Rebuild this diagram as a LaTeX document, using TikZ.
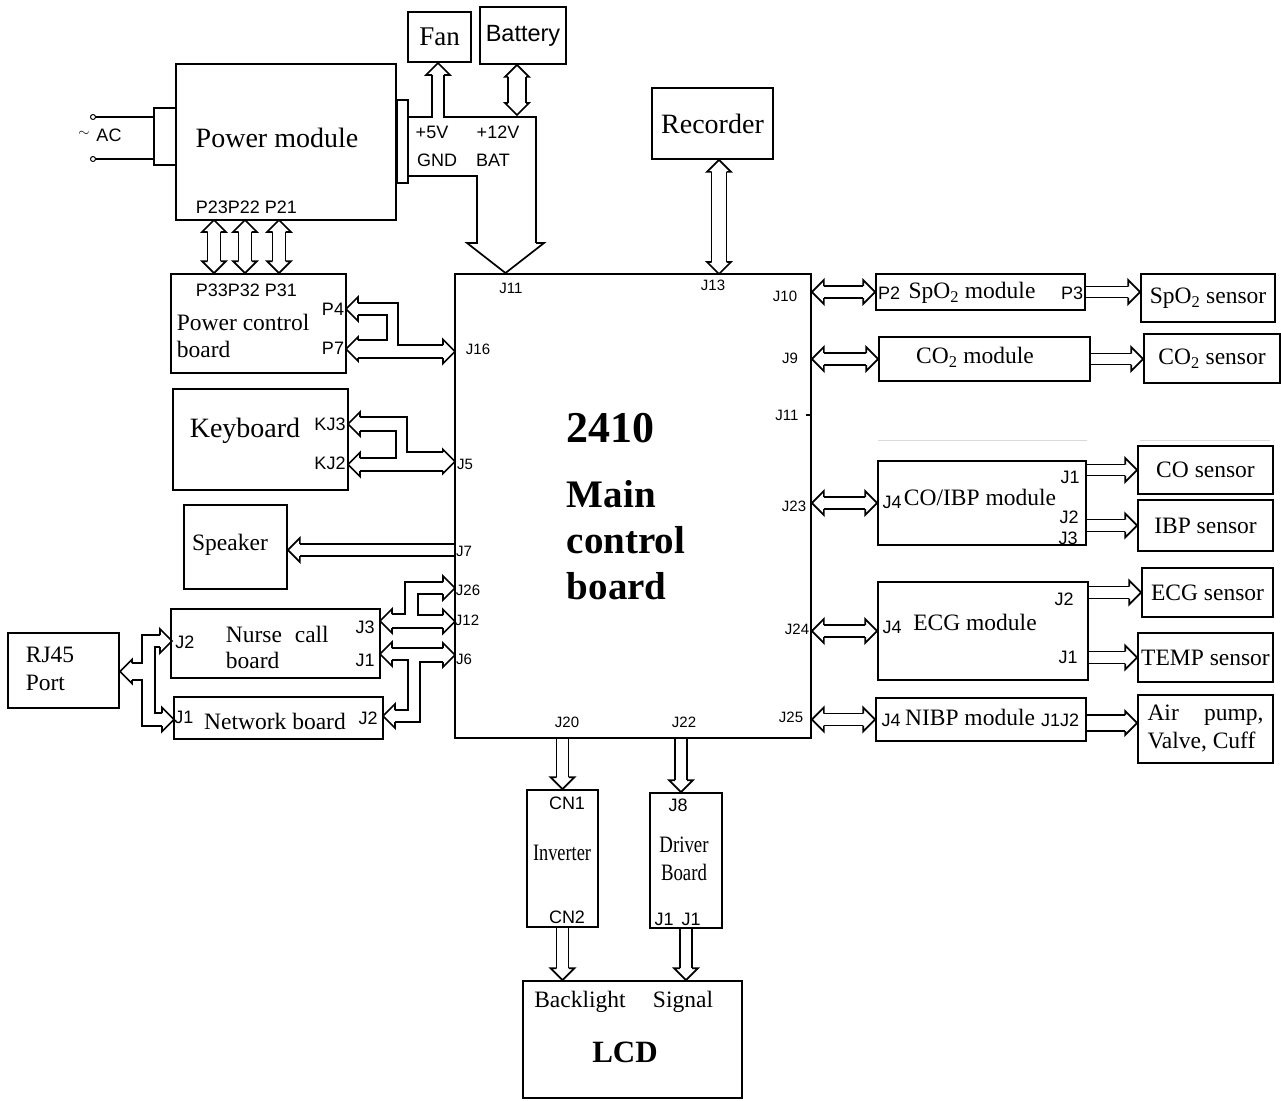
\documentclass[tikz,border=0pt]{standalone}
\usepackage{fontspec}
\setmainfont{Liberation Serif}
\newfontfamily\pinfont{Liberation Sans}
\usepackage{graphicx}
\usetikzlibrary{calc}

\tikzset{
  blk/.style={draw, rectangle, inner sep=0pt},
  lbl/.style={inner sep=0pt, font=\fontsize{23.5}{27}\selectfont},
  biglbl/.style={inner sep=0pt, font=\fontsize{28}{32}\selectfont},
  pin/.style={inner sep=0pt, font=\pinfont\fontsize{15}{15}\selectfont},
  pinl/.style={inner sep=0pt, font=\pinfont\fontsize{18}{18}\selectfont},
  pics/headL/.style={code={\draw (12,-#1) -- (12,-12) -- (0,0) -- (12,12) -- (12,#1);}},
  pics/headR/.style={code={\draw (-12,-#1) -- (-12,-12) -- (0,0) -- (-12,12) -- (-12,#1);}},
  pics/headU/.style={code={\draw (-#1,12) -- (-12,12) -- (0,0) -- (12,12) -- (#1,12);}},
  pics/headD/.style={code={\draw (-#1,-12) -- (-12,-12) -- (0,0) -- (12,-12) -- (#1,-12);}},
}

% hollow bus arrows: [shaft half width]{from}{to}
\newcommand{\busLR}[3][6]{%
  \pic at (#2) {headL=#1}; \pic at (#3) {headR=#1};
  \draw let \p1=(#2), \p2=(#3) in
    (\x1+12pt,\y1+#1pt) -- (\x2-12pt,\y1+#1pt)
    (\x1+12pt,\y1-#1pt) -- (\x2-12pt,\y1-#1pt);}
\newcommand{\busR}[3][6]{%
  \pic at (#3) {headR=#1};
  \draw let \p1=(#2), \p2=(#3) in
    (\x1,\y2+#1pt) -- (\x2-12pt,\y2+#1pt)
    (\x1,\y2-#1pt) -- (\x2-12pt,\y2-#1pt);}
\newcommand{\busL}[3][6]{%
  \pic at (#2) {headL=#1};
  \draw let \p1=(#2), \p2=(#3) in
    (\x1+12pt,\y1+#1pt) -- (\x2,\y1+#1pt)
    (\x1+12pt,\y1-#1pt) -- (\x2,\y1-#1pt);}
\newcommand{\busUD}[3][6]{%
  \pic at (#2) {headU=#1}; \pic at (#3) {headD=#1};
  \draw let \p1=(#2), \p2=(#3) in
    (\x1+#1pt,\y1-12pt) -- (\x1+#1pt,\y2+12pt)
    (\x1-#1pt,\y1-12pt) -- (\x1-#1pt,\y2+12pt);}
\newcommand{\busD}[3][6]{%
  \pic at (#3) {headD=#1};
  \draw let \p1=(#2), \p2=(#3) in
    (\x2+#1pt,\y1) -- (\x2+#1pt,\y2+12pt)
    (\x2-#1pt,\y1) -- (\x2-#1pt,\y2+12pt);}

\begin{document}
\begin{tikzpicture}[x=1pt, y=-1pt, line width=1.7pt, line join=miter]

  %% ==== blocks ====
  \node[blk, minimum width=220, minimum height=156] (power) at (286,142) {};
  \node[blk, minimum width=22, minimum height=57] (acplug) at (165,136.5) {};
  \node[blk, minimum width=11, minimum height=83] (pout) at (402.5,141.5) {};
  \node[blk, minimum width=63, minimum height=50, font=\fontsize{27}{27}\selectfont] (fan) at (439.5,37) {Fan};
  \node[blk, minimum width=86, minimum height=57, font=\pinfont\fontsize{23.5}{24}\selectfont] (battery) at (523,35.5) {Battery};
  \node[blk, minimum width=121, minimum height=71, font=\fontsize{28}{28}\selectfont] (recorder) at (712.5,123.5) {Recorder};
  \node[blk, minimum width=175, minimum height=99] (pcb) at (258.5,323.5) {};
  \node[blk, minimum width=175, minimum height=101] (keyboard) at (260.5,439.5) {};
  \node[blk, minimum width=103, minimum height=84] (speaker) at (235.5,547) {};
  \node[blk, minimum width=209, minimum height=69] (nurse) at (275.5,643.5) {};
  \node[blk, minimum width=209, minimum height=42] (network) at (278.5,718) {};
  \node[blk, minimum width=111, minimum height=75] (rj45) at (63.5,670.5) {};
  \node[blk, minimum width=356, minimum height=464] (main) at (633,506) {};
  \node[blk, minimum width=209, minimum height=36] (spo2m) at (980.5,292) {};
  \node[blk, minimum width=134, minimum height=48] (spo2s) at (1208,298) {};
  \node[blk, minimum width=211, minimum height=44] (co2m) at (984.5,359) {};
  \node[blk, minimum width=136, minimum height=49] (co2s) at (1212,358.5) {};
  \node[blk, minimum width=208, minimum height=84] (coibp) at (982,503) {};
  \node[blk, minimum width=135, minimum height=48] (cos) at (1205.5,470) {};
  \node[blk, minimum width=135, minimum height=51] (ibps) at (1205.5,525.5) {};
  \node[blk, minimum width=210, minimum height=98] (ecgm) at (983,631) {};
  \node[blk, minimum width=131, minimum height=49] (ecgs) at (1207.5,592.5) {};
  \node[blk, minimum width=135, minimum height=49] (temps) at (1205.5,657.5) {};
  \node[blk, minimum width=210, minimum height=43] (nibpm) at (981,719.5) {};
  \node[blk, minimum width=135, minimum height=68] (pump) at (1205.5,729) {};
  \node[blk, minimum width=71, minimum height=137] (inverter) at (562.5,858.5) {};
  \node[blk, minimum width=72, minimum height=135] (driver) at (686,860.5) {};
  \node[blk, minimum width=219, minimum height=117] (lcd) at (632.5,1039.5) {};

  %% ==== texts ====
  \node[biglbl] (powert) at (277,138) {Power module};
  \node[lbl, anchor=west, align=left] (pcbt) at (176,335.5) {Power control\\board};
  \node[biglbl] (keyt) at (245,431) {Keyboard};
  \node[lbl] (speakert) at (230,545) {Speaker};
  \node[lbl, anchor=west, align=left, font=\fontsize{23.5}{26}\selectfont] (nurset) at (225,647) {Nurse\hspace{7pt} call\\board};
  \node[lbl] (networkt) at (275,721) {Network board};
  \node[lbl, anchor=west, align=left, font=\fontsize{23.5}{28}\selectfont] (rj45t) at (25,669) {RJ45\\Port};
  \node[anchor=west, inner sep=0pt, font=\bfseries\fontsize{44}{44}\selectfont] (maint) at (566,428) {2410};
  \node[anchor=west, align=left, inner sep=0pt, font=\bfseries\fontsize{39}{46}\selectfont] (mainn) at (566,540) {Main\\control\\board};
  \node[lbl] (spo2mt) at (972,293) {SpO\textsubscript{2} module};
  \node[lbl] (spo2st) at (spo2s) {SpO\textsubscript{2} sensor};
  \node[lbl] (co2mt) at (975,357) {CO\textsubscript{2} module};
  \node[lbl] (co2st) at (co2s) {CO\textsubscript{2} sensor};
  \node[lbl] (coibpt) at (980,497) {CO/IBP module};
  \node[lbl] (cost) at (cos) {CO sensor};
  \node[lbl] (ibpst) at (ibps) {IBP sensor};
  \node[lbl] (ecgmt) at (975,622) {ECG module};
  \node[lbl] (ecgst) at (ecgs) {ECG sensor};
  \node[lbl] (tempst) at (temps) {TEMP sensor};
  \node[lbl] (nibpmt) at (970,717) {NIBP module};
  \node[lbl, align=left, font=\fontsize{23.5}{28}\selectfont] (pumpt) at (pump) {\makebox[116pt][s]{Air pump,}\\Valve, Cuff};
  \node[lbl] (invt) at (562,853) {\scalebox{0.78}[1]{Inverter}};
  \node[lbl, align=center, font=\fontsize{23.5}{28}\selectfont] (drivert) at (684,859) {\scalebox{0.8}[1]{Driver}\\\scalebox{0.8}[1]{Board}};
  \node[lbl] (backt) at (580,1002) {Backlight};
  \node[lbl] (signalt) at (683,1002) {Signal};
  \node[inner sep=0pt, font=\bfseries\fontsize{31}{31}\selectfont] (lcdt) at (625,1052) {LCD};

  %% ==== pin labels ====
  \node[pinl] (acl) at (109,135) {AC};
  \node[pin] (acs) at (84,134) {$\sim$};
  \node[pinl] (p5v) at (432,132) {+5V};
  \node[pinl] (p12v) at (498,132) {+12V};
  \node[pinl] (gnd) at (437,160) {GND};
  \node[pinl] (bat) at (493,160) {BAT};
  \node[pinl, anchor=west] (p2x) at (195,207) {P23P22 P21};
  \node[pinl, anchor=west] (p3x) at (195,290) {P33P32 P31};
  \node[pinl] (p4) at (333,309) {P4};
  \node[pinl] (p7) at (333,348) {P7};
  \node[pinl] (kj3) at (330,424) {KJ3};
  \node[pinl] (kj2) at (330,463) {KJ2};
  \node[pinl] (nj2) at (185,642) {J2};
  \node[pinl] (nj3) at (365,627) {J3};
  \node[pinl] (nj1) at (365,660) {J1};
  \node[pinl] (wj1) at (184,717) {J1};
  \node[pinl] (wj2) at (368,718) {J2};
  \node[pin] (j11) at (511,288) {J11};
  \node[pin] (j13l) at (713,285) {J13};
  \node[pin] (j10) at (785,296) {J10};
  \node[pin] (j9) at (790,358) {J9};
  \node[pin] (j11r) at (787,415) {J11};
  \node[pin] (j23) at (794,506) {J23};
  \node[pin] (j24) at (797,629) {J24};
  \node[pin] (j25) at (791,717) {J25};
  \node[pin] (j16) at (478,349) {J16};
  \node[pin] (j5) at (465,464) {J5};
  \node[pin] (j7) at (464,551) {J7};
  \node[pin] (j26) at (468,590) {J26};
  \node[pin] (j12) at (467,620) {J12};
  \node[pin] (j6) at (464,659) {J6};
  \node[pin] (j20) at (567,722) {J20};
  \node[pin] (j22l) at (684,722) {J22};
  \node[pinl] (sp2) at (889,293) {P2};
  \node[pinl] (sp3) at (1072,293) {P3};
  \node[pinl] (cj4) at (892,502) {J4};
  \node[pinl] (cj1) at (1070,477) {J1};
  \node[pinl] (cj2) at (1069,517) {J2};
  \node[pinl] (cj3) at (1068,538) {J3};
  \node[pinl] (ej4) at (892,627) {J4};
  \node[pinl] (ej2) at (1064,599) {J2};
  \node[pinl] (ej1) at (1068,657) {J1};
  \node[pinl] (bj4) at (891,720) {J4};
  \node[pinl] (bj12) at (1060,720) {J1J2};
  \node[pinl] (cn1) at (567,803) {CN1};
  \node[pinl] (cn2) at (567,917) {CN2};
  \node[pinl] (dj8) at (678,805) {J8};
  \node[pinl] (dj1) at (664,919) {J1};
  \node[pinl] (dj1b) at (691,919) {J1};

  %% ==== AC input ====
  \draw (93,117) -- (acplug.west |- 0,117);
  \draw (93,159) -- (acplug.west |- 0,159);
  \draw[fill=white, line width=1pt] (93,117) circle (2.5) (93,159) circle (2.5);

  %% ==== power outputs (fan / battery / J11) ====
  \draw (408,117) -- (432,117) -- (432,75);
  \pic at (438,63) {headU=6};
  \draw (444,75) -- (444,117) -- (536,117) -- (536,243);
  \draw (408,176) -- (477,176) -- (477,243) -- (467,243) -- (505.5,273) -- (544,243) -- (536,243);
  \coordinate (batbus) at (517,115);
  \busUD[9]{batbus |- battery.south}{batbus}

  %% ==== straight buses ====
  \coordinate (c23) at (214,220);
  \coordinate (c22) at (245,220);
  \coordinate (c21) at (279,220);
  \busUD[6.5]{c23}{c23 |- pcb.north}
  \busUD[6.5]{c22}{c22 |- pcb.north}
  \busUD[6.5]{c21}{c21 |- pcb.north}
  \coordinate (j13) at (719,274);
  \busUD[7.5]{j13 |- recorder.south}{j13}
  \busL{speaker.east |- 0,550}{main.west |- 0,550}
  \busLR{main.east |- spo2m.west}{spo2m.west}
  \busR[5.5]{spo2m.east}{spo2m.east -| spo2s.west}
  \busLR{main.east |- co2m.west}{co2m.west}
  \busR[5.5]{co2m.east}{co2m.east -| co2s.west}
  \busLR{main.east |- coibp.west}{coibp.west}
  \busR[5.5]{coibp.east |- cos.west}{cos.west}
  \busR{coibp.east |- ibps.west}{ibps.west}
  \busLR{main.east |- ecgm.west}{ecgm.west}
  \busR{ecgm.east |- ecgs.west}{ecgs.west}
  \busR{ecgm.east |- temps.west}{temps.west}
  \busLR{main.east |- nibpm.west}{nibpm.west}
  \busR[8]{nibpm.east |- 0,723}{pump.west |- 0,723}
  \busD{inverter.north |- main.south}{inverter.north}
  \coordinate (j22) at (681,738);
  \busD{j22}{j22 |- driver.north}
  \busD{inverter.south}{inverter.south |- lcd.north}
  \busD{driver.south}{driver.south |- lcd.north}
  \draw (806,415) -- (main.east |- 0,415);

  %% ==== power control board -> J16 ====
  \pic at (346,309) {headL=6};
  \pic at (346,349) {headL=9};
  \pic at (455,351.5) {headR=6.5};
  \draw (358,303) -- (398,303) -- (398,345) -- (443,345);
  \draw (358,315) -- (387,315) -- (387,340) -- (358,340);
  \draw (358,358) -- (443,358);

  %% ==== keyboard -> J5 ====
  \pic at (348,424) {headL=7};
  \pic at (348,464.5) {headL=6.5};
  \pic at (455,461.5) {headR=9.5};
  \draw (360,417) -- (407,417) -- (407,452) -- (443,452);
  \draw (360,431) -- (396,431) -- (396,458) -- (360,458);
  \draw (360,471) -- (443,471);

  %% ==== nurse call / network -> J26, J12, J6 ====
  \pic at (380,621) {headL=7};
  \pic at (455,588) {headR=6};
  \pic at (455,621.5) {headR=6.5};
  \draw (392,614) -- (405,614) -- (405,582) -- (443,582);
  \draw (443,594) -- (418,594) -- (418,615) -- (443,615);
  \draw (392,628) -- (443,628);
  \pic at (380,654) {headL=6};
  \pic at (455,655) {headR=7};
  \pic at (383,716) {headL=6};
  \draw (392,648) -- (443,648);
  \draw (443,662) -- (420,662) -- (420,722) -- (395,722);
  \draw (392,660) -- (408,660) -- (408,710) -- (395,710);

  %% ==== RJ45 -> nurse call J2 / network J1 ====
  \pic at (120,671.5) {headL=8.5};
  \pic at (172,641) {headR=6};
  \pic at (174,719.5) {headR=6.5};
  \draw (132,663) -- (142,663) -- (142,635) -- (160,635);
  \draw (160,647) -- (155,647) -- (155,713) -- (162,713);
  \draw (162,726) -- (142,726) -- (142,680) -- (132,680);

  %% ==== faint rule ====
  \draw[gray!30, line width=0.8pt] (878,440) -- (1087,440) (1140,440) -- (1270,440);

  \pgfresetboundingbox
  \path[use as bounding box] (0,0) rectangle (1281,1100);
\end{tikzpicture}
\end{document}
